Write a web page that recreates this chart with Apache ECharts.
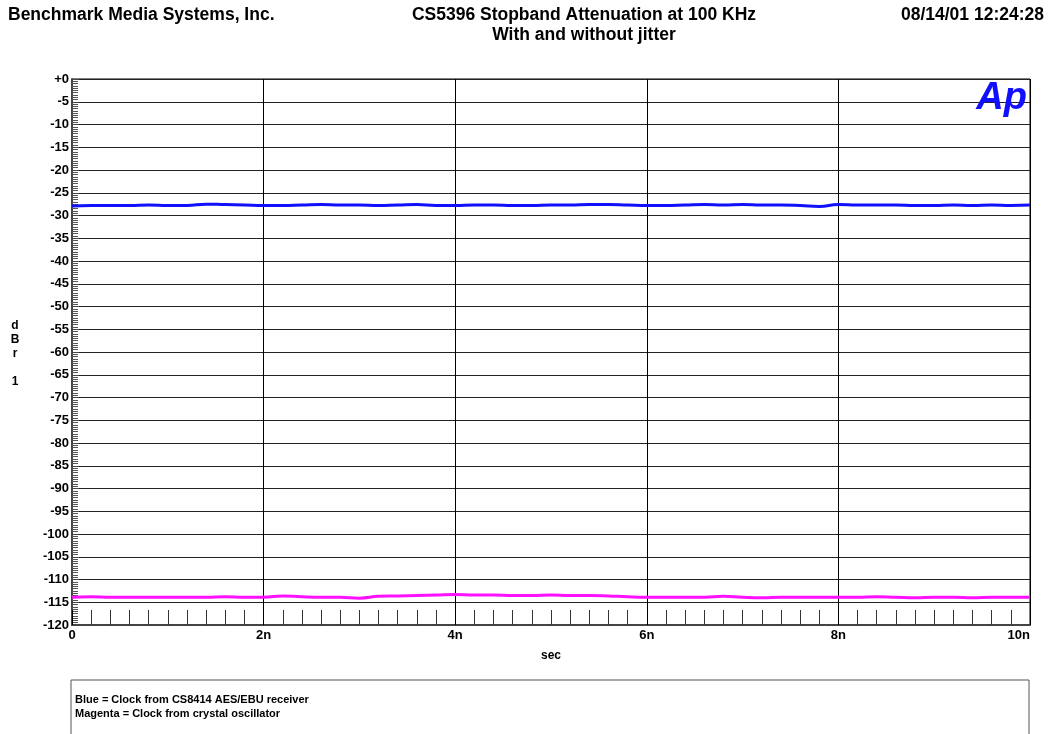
<!DOCTYPE html>
<html><head><meta charset="utf-8">
<script src="https://cdn.jsdelivr.net/npm/echarts@6/dist/echarts.min.js"></script>
<style>html,body{margin:0;padding:0;background:#fff}#c{width:1052px;height:734px}</style>
</head><body><div id="c"></div>
<script>
const xValues = [0,0.2,0.4,0.6,0.8,1.0,1.2,1.4,1.6,1.8,2.0,2.2,2.4,2.6,2.8,3.0,3.2,3.4,3.6,3.8,4.0,4.2,4.4,4.6,4.8,5.0,5.2,5.4,5.6,5.8,6.0,6.2,6.4,6.6,6.8,7.0,7.2,7.4,7.6,7.8,8.0,8.2,8.4,8.6,8.8,9.0,9.2,9.4,9.6,9.8,10.0];
const blueValues = [-27.9,-27.8,-27.8,-27.8,-27.7,-27.8,-27.8,-27.5,-27.6,-27.7,-27.8,-27.8,-27.7,-27.6,-27.7,-27.7,-27.8,-27.7,-27.6,-27.8,-27.8,-27.7,-27.7,-27.8,-27.8,-27.7,-27.7,-27.6,-27.6,-27.7,-27.8,-27.8,-27.7,-27.6,-27.7,-27.6,-27.7,-27.7,-27.8,-28.0,-27.6,-27.7,-27.7,-27.7,-27.8,-27.8,-27.7,-27.8,-27.7,-27.8,-27.7];
const magentaValues = [-113.9,-113.8,-113.9,-113.9,-113.9,-113.9,-113.9,-113.9,-113.8,-113.9,-113.9,-113.6,-113.8,-113.9,-113.9,-114.1,-113.7,-113.6,-113.5,-113.4,-113.3,-113.4,-113.4,-113.5,-113.5,-113.4,-113.5,-113.5,-113.6,-113.8,-113.9,-113.9,-113.9,-113.9,-113.7,-113.9,-114.0,-113.9,-113.9,-113.9,-113.9,-113.9,-113.8,-113.9,-114.0,-113.9,-113.9,-114.0,-113.9,-113.9,-113.9];
const xTickLabels = {0:'0',2:'2n',4:'4n',6:'6n',8:'8n',10:'10n'};
const titleLeft = 'Benchmark Media Systems, Inc.';
const titleMain = 'CS5396 Stopband Attenuation at 100 KHz';
const titleSub = 'With and without jitter';
const titleDate = '08/14/01 12:24:28';
const legendLines = ['Blue = Clock from CS8414 AES/EBU receiver','Magenta = Clock from crystal oscillator'];

const chart = echarts.init(document.getElementById('c'));
const FF = '"Liberation Sans", Arial, sans-serif';
const blueData = xValues.map((x,i)=>[x, blueValues[i]]);
const magData = xValues.map((x,i)=>[x, magentaValues[i]]);
chart.setOption({
  backgroundColor:'#fff',
  animation:false,
  grid:{left:72,right:22,top:79,bottom:109,show:true,borderColor:'#000',borderWidth:1},
  xAxis:{type:'value',min:0,max:10,interval:2,
    axisLine:{show:true,onZero:false,lineStyle:{color:'#444',width:2}},
    axisTick:{show:true,inside:true,length:15,lineStyle:{color:'#000'}},
    minorTick:{show:true,splitNumber:10,length:15,lineStyle:{color:'#333'}},
    splitLine:{show:true,lineStyle:{color:'#000',width:1}},
    axisLabel:{color:'#000',fontFamily:FF,fontWeight:'bold',fontSize:13,margin:4,alignMaxLabel:'right',
      formatter:v=>xTickLabels[v]!==undefined?xTickLabels[v]:''},
    name:'sec',nameLocation:'middle',nameGap:25,
    nameTextStyle:{color:'#000',fontFamily:FF,fontWeight:'bold',fontSize:12}
  },
  yAxis:{type:'value',min:-120,max:0,interval:5,
    axisLine:{show:true,onZero:false,lineStyle:{color:'#444',width:2}},
    axisTick:{show:true,inside:true,length:7,lineStyle:{color:'#444'}},
    minorTick:{show:true,splitNumber:10,length:6,lineStyle:{color:'#555'}},
    splitLine:{show:true,lineStyle:{color:'#222',width:1}},
    axisLabel:{color:'#000',fontFamily:FF,fontWeight:'bold',fontSize:13,margin:3,
      formatter:v=>v===0?'+0':String(v)}
  },
  series:[
    {type:'line',data:blueData,symbol:'none',smooth:true,lineStyle:{color:'#1010ff',width:3},z:5},
    {type:'line',data:magData,symbol:'none',smooth:true,lineStyle:{color:'#ff10ff',width:3},z:5}
  ],
  graphic:[
    {type:'text',left:8,top:6,style:{text:titleLeft,fontFamily:FF,fontWeight:'bold',fontSize:17.5,fill:'#000'}},
    {type:'text',x:584,y:6,style:{text:titleMain,fontFamily:FF,fontWeight:'bold',fontSize:17.5,fill:'#000',align:'center'}},
    {type:'text',x:584,y:26,style:{text:titleSub,fontFamily:FF,fontWeight:'bold',fontSize:17.5,fill:'#000',align:'center'}},
    {type:'text',x:1044,y:6,style:{text:titleDate,fontFamily:FF,fontWeight:'bold',fontSize:17.5,fill:'#000',align:'right'}},
    {type:'text',x:15,y:320,style:{text:'d',fontFamily:FF,fontWeight:'bold',fontSize:12,fill:'#000',align:'center'}},
    {type:'text',x:15,y:334,style:{text:'B',fontFamily:FF,fontWeight:'bold',fontSize:12,fill:'#000',align:'center'}},
    {type:'text',x:15,y:348,style:{text:'r',fontFamily:FF,fontWeight:'bold',fontSize:12,fill:'#000',align:'center'}},
    {type:'text',x:15,y:376,style:{text:'1',fontFamily:FF,fontWeight:'bold',fontSize:12,fill:'#000',align:'center'}},
    {type:'text',x:1027,y:80,z:10,style:{text:'Ap',fontFamily:FF,fontWeight:'bold',fontStyle:'italic',fontSize:38,fill:'#1010ff',align:'right'}},
    {type:'rect',shape:{x:71,y:680,width:958,height:70},style:{fill:'#fff',stroke:'#555',lineWidth:1}},
    {type:'text',x:75,y:694,style:{text:legendLines[0],fontFamily:FF,fontWeight:'bold',fontSize:11,fill:'#000'}},
    {type:'text',x:75,y:708,style:{text:legendLines[1],fontFamily:FF,fontWeight:'bold',fontSize:11,fill:'#000'}}
  ]
});
</script></body></html>
